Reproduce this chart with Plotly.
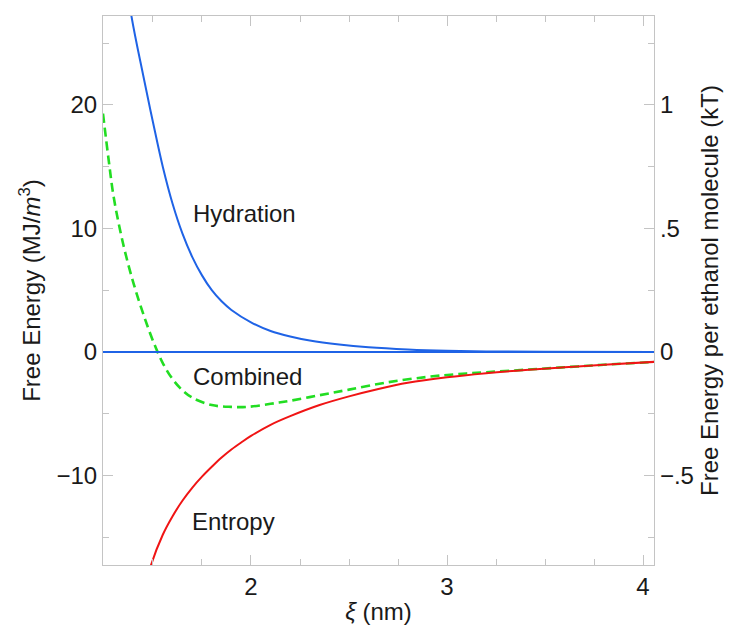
import plotly.graph_objects as go

# Hydration (blue)
hyd_x = [1.33, 1.39, 1.45, 1.50, 1.55, 1.60, 1.65, 1.70, 1.75, 1.80, 1.85, 1.90, 2.00, 2.10, 2.20, 2.30, 2.45, 2.60, 2.80, 3.00, 3.20, 3.50, 4.06]
hyd_y = [33.5, 27.2, 22.4, 18.6, 15.0, 12.0, 9.6, 7.7, 6.2, 5.0, 4.1, 3.4, 2.4, 1.7, 1.25, 0.92, 0.6, 0.38, 0.2, 0.09, 0.04, 0.01, 0.0]

# Entropy (red)
ent_x = [1.44, 1.49, 1.55, 1.60, 1.65, 1.70, 1.75, 1.80, 1.85, 1.90, 1.95, 2.00, 2.10, 2.20, 2.35, 2.50, 2.65, 2.80, 3.00, 3.20, 3.40, 3.60, 3.80, 4.06]
ent_y = [-20.3, -17.25, -14.8, -13.3, -12.05, -11.0, -10.1, -9.3, -8.55, -7.9, -7.33, -6.8, -5.9, -5.2, -4.3, -3.6, -3.0, -2.5, -2.05, -1.72, -1.46, -1.24, -1.04, -0.8]

# Combined (green dashed)
com_x = [1.245, 1.275, 1.30, 1.35, 1.40, 1.45, 1.50, 1.55, 1.60, 1.65, 1.70, 1.80, 1.90, 1.98, 2.10, 2.20, 2.35, 2.50, 2.70, 2.90, 3.05, 3.20, 3.40, 3.60, 3.80, 4.06]
com_y = [19.3, 15.4, 12.5, 8.6, 5.6, 3.1, 0.9, -0.9, -2.2, -3.1, -3.7, -4.3, -4.45, -4.45, -4.2, -3.95, -3.5, -3.05, -2.45, -2.02, -1.8, -1.64, -1.44, -1.24, -1.04, -0.8]

x_range = [1.245, 4.056]
y_range = [-17.25, 27.2]
kt_factor = 0.05  # 10 MJ/m^3 <-> 0.5 kT

left_ticks = [-10, 0, 10, 20]
left_labels = ["\u221210", "0", "10", "20"]
right_ticks = [-0.5, 0, 0.5, 1]
right_labels = ["\u2212.5", "0", ".5", "1"]
x_ticks = [2, 3, 4]

labels = [("Hydration", 1.965, 11.2), ("Combined", 1.98, -1.95), ("Entropy", 1.91, -13.7)]

FONT = "Liberation Sans, Arial, Helvetica, sans-serif"
FRAME = "#c4c4c4"
TXT = "#1a1a1a"
BLUE = "#1f63e6"
FS = 24

fig = go.Figure()
fig.add_trace(go.Scatter(x=hyd_x, y=hyd_y, mode="lines", line=dict(color=BLUE, width=2, shape="spline"),
                         showlegend=False, hoverinfo="skip"))
fig.add_trace(go.Scatter(x=com_x, y=com_y, mode="lines", line=dict(color="#22dd22", width=2.6, dash="9px,5px", shape="spline"),
                         showlegend=False, hoverinfo="skip"))
fig.add_trace(go.Scatter(x=ent_x, y=ent_y, mode="lines", line=dict(color="#f01414", width=2, shape="spline"),
                         showlegend=False, hoverinfo="skip"))
# same combined series expressed per molecule (kT) to carry the right-hand axis
fig.add_trace(go.Scatter(x=com_x, y=[v * kt_factor for v in com_y], yaxis="y2", mode="lines",
                         line=dict(width=0), opacity=0, showlegend=False, hoverinfo="skip"))

# zero reference line, drawn above the frame ticks
fig.add_hline(y=0, line=dict(color=BLUE, width=2), layer="above")

for text, lx, ly in labels:
    fig.add_annotation(x=lx, y=ly, text=text, showarrow=False, xref="x", yref="y",
                       font=dict(family=FONT, size=FS, color=TXT))

fig.update_layout(
    width=729, height=628,
    margin=dict(l=103, r=75, t=16, b=63),
    paper_bgcolor="white", plot_bgcolor="white",
    font=dict(family=FONT, size=FS, color=TXT),
    xaxis=dict(range=x_range, tickvals=x_ticks, ticks="inside", ticklen=10, tickcolor=FRAME, tickwidth=1,
               showline=True, linecolor=FRAME, linewidth=1.2, mirror="ticks", showgrid=False, zeroline=False,
               minor=dict(dtick=0.25, ticks="inside", ticklen=6, tickcolor=FRAME, showgrid=False),
               title=dict(text="<i>\u03be</i> (nm)", font=dict(size=FS), standoff=4),
               tickfont=dict(size=FS), automargin=False),
    yaxis=dict(range=y_range, tickvals=left_ticks, ticktext=left_labels, ticks="inside", ticklen=10,
               tickcolor=FRAME, tickwidth=1, showline=True, linecolor=FRAME, linewidth=1.2, mirror=False,
               showgrid=False, zeroline=False,
               minor=dict(dtick=5, ticks="inside", ticklen=6, tickcolor=FRAME, showgrid=False),
               title=dict(text="Free Energy (MJ/<i>m</i><sup>3</sup>)", font=dict(size=FS), standoff=8),
               tickfont=dict(size=FS), automargin=False),
    yaxis2=dict(range=[y_range[0] * kt_factor, y_range[1] * kt_factor], overlaying="y", side="right",
                tickvals=right_ticks, ticktext=right_labels, ticks="inside", ticklen=10, tickcolor=FRAME,
                tickwidth=1, showline=True, linecolor=FRAME, linewidth=1.2, showgrid=False, zeroline=False,
                minor=dict(dtick=0.25, ticks="inside", ticklen=6, tickcolor=FRAME, showgrid=False),
                title=dict(text="Free Energy per ethanol molecule (kT)", font=dict(size=FS), standoff=8),
                tickfont=dict(size=FS), automargin=False),
)

fig.write_html("out.html")
